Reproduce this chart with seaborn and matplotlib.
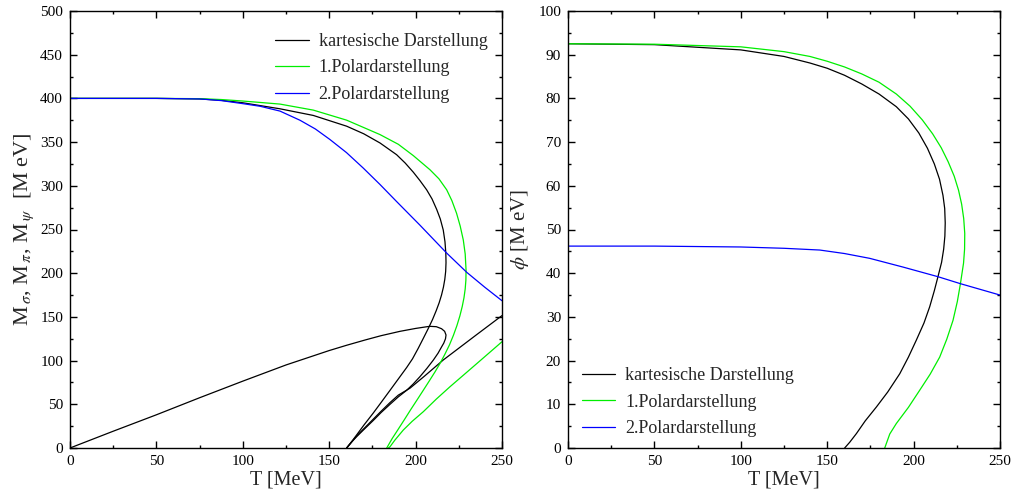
import numpy as np
import pandas as pd
import matplotlib
matplotlib.use("Agg")
import matplotlib.pyplot as plt
import seaborn as sns

# ---------------- data ----------------
# Left panel: masses [MeV] vs T [MeV]
kart_sigma_T = [0, 50, 75, 87.5, 100, 121.5, 140.8, 160.1, 170, 179.4, 189, 194, 198.7, 202.5,
                206.4, 209.5, 212.2, 214.3, 216, 217, 217.5, 217.6, 217.4, 216.9, 216.1, 215,
                213.6, 211.9, 209.8, 207.4, 204.6, 201.5, 198.2, 194.8, 190, 185.2, 180, 175.5,
                170, 165.9, 162.5, 160.1]
kart_sigma_M = [400, 400, 399.4, 397.8, 395, 388.1, 380.5, 368.2, 359.5, 349, 335.6, 326, 315.5,
                306, 295.4, 285, 273, 262, 249.4, 236, 222.6, 212, 202, 193, 184, 175,
                166, 157, 147, 137, 126, 114, 102, 92, 79, 66, 52, 40,
                26, 15, 6, 0]

kart_pion_T = [0, 25, 50, 75, 100, 125, 150, 160, 171, 180, 191, 200, 206, 208.3, 212, 215, 216.8,
               217.6, 217.3, 216.3, 215.1, 213, 210.3, 206.5, 202.5, 198.5, 194.8, 190, 185.2, 180,
               175.5, 170, 165.9, 162.5, 160.1]
kart_pion_M = [0, 19.2, 38, 57.5, 76.5, 95, 111.5, 117.5, 123.7, 128.5, 133.5, 136.8, 138.6, 139.2,
               138.8, 136.5, 133.5, 129.3, 125, 120, 115.9, 108.5, 100.7, 91, 81.6, 73, 66, 58.5,
               50, 40.5, 31.5, 21, 13, 6, 0]

kart_sym_T = [160.1, 162.5, 166, 170, 175.5, 180, 185.2, 190, 196.8, 205, 216, 225, 235, 250]
kart_sym_M = [0, 5.5, 14, 22, 33, 42, 52, 60.5, 68.5, 82, 100.7, 114.2, 129.2, 151.5]

pol1_sigma_T = [0, 50, 75, 87.5, 100, 121.5, 140.8, 160.1, 179.4, 190, 198.7, 208.3, 213.5, 218,
                221, 223.7, 225.8, 227.6, 228.7, 229.2, 229.1, 228.7, 228, 227, 225.6, 223.9,
                221.9, 219.6, 217, 214.2, 211.2, 208, 204.6, 201, 197.2, 193.2, 189.3, 186.5,
                184.6, 183.3]
pol1_sigma_M = [400, 400, 399.7, 398.7, 397, 393.5, 386.6, 375.1, 358.6, 347.5, 334.5, 318.4, 308,
                295.4, 283, 268.6, 254, 238, 222, 203.5, 192, 182, 172, 162, 151, 140,
                129, 118, 107.5, 97, 87, 77, 66.5, 55.5, 44, 31.5, 19.5, 11,
                4.5, 0]

pol1_sym_T = [184.3, 185.2, 188, 192.9, 198, 204.5, 212, 219.9, 228, 238, 250]
pol1_sym_M = [0, 1.5, 9, 20.6, 30.5, 41.6, 56, 70.1, 83.9, 101, 121.6]

pol2_M_T = [0, 50, 75, 87.5, 100, 110, 121.5, 133.1, 142, 150.4, 160, 169.7, 179.4, 189, 195,
            202.5, 210, 218, 229.6, 240, 250]
pol2_M_M = [400, 400, 399.4, 397.5, 394, 391, 385.5, 375, 365, 353, 338, 320.3, 301.5, 282, 270,
            255, 239.5, 223, 201, 184, 168.5]

# Right panel: condensate phi [MeV] vs T [MeV]
kart_phi_T = [0, 50, 100, 125, 140, 150, 160, 170, 180, 190, 197, 203, 208, 212, 215, 217,
              218, 218.3, 218.1, 217.4, 216.2, 214.1, 212, 209.3, 206, 201.6, 197, 192,
              185, 178.5, 172, 166.9, 163, 160.1]
kart_phi_V = [92.5, 92.3, 91.1, 89.6, 88.1, 86.9, 85.3, 83.3, 81.0, 78.1, 75.3, 72.1, 68.6,
              65.0, 61.5, 57.8, 54.8, 51.5, 48.5, 45.5, 42.5, 39.2, 36, 32.3, 28.6, 24.7,
              20.8, 17, 12.8, 9.4, 6.2, 3.3, 1.3, 0]

pol1_phi_T = [0, 50, 100, 125, 140, 150, 160, 170, 180, 190, 198, 205, 211, 216, 220, 223.5,
              226, 227.8, 229, 229.6, 229.5, 228.9, 227.1, 225.3, 222.8, 219.2, 215.1, 209.6,
              203.5, 197, 190, 186.2, 183.3]
pol1_phi_V = [92.5, 92.4, 91.8, 90.7, 89.6, 88.5, 87.2, 85.6, 83.7, 81.0, 78.2, 75.1, 71.9,
              68.7, 65.5, 62.2, 59, 55.8, 52.5, 49.1, 45.5, 42.3, 37.6, 33.5, 29.2, 24.9,
              20.8, 16.9, 13.2, 9.3, 5.6, 3.2, 0]

pol2_phi_T = [0, 50, 100, 125, 145.7, 160, 174.6, 193.9, 214.1, 227.1, 250]
pol2_phi_V = [46.2, 46.2, 46.0, 45.7, 45.3, 44.5, 43.4, 41.4, 39.2, 37.6, 35.0]

labels = ["kartesische Darstellung", "1.Polardarstellung", "2.Polardarstellung"]
colors = ["black", "#00ee00", "#0000ff"]

# ---------------- style ----------------
sns.set_style("ticks")
plt.rcParams["font.family"] = ["Liberation Serif", "DejaVu Serif"]
plt.rcParams["mathtext.fontset"] = "stix"
plt.rcParams["axes.linewidth"] = 1.0
plt.rcParams["lines.solid_joinstyle"] = "round"

fig = plt.figure(figsize=(10.27, 5.01), dpi=100)
axL = fig.add_axes([70 / 1027, 53 / 501, 432 / 1027, 437 / 501])
axR = fig.add_axes([568 / 1027, 53 / 501, 432 / 1027, 437 / 501])

lw = 0.9


def draw(ax, T, Y, color, label=None):
    sns.lineplot(x=np.array(T, dtype=float), y=np.array(Y, dtype=float), sort=False,
                 estimator=None, color=color, lw=lw, ax=ax, label=label)


# left panel
draw(axL, kart_sigma_T, kart_sigma_M, colors[0], labels[0])
draw(axL, kart_pion_T, kart_pion_M, colors[0])
draw(axL, kart_sym_T, kart_sym_M, colors[0])
draw(axL, pol1_sigma_T, pol1_sigma_M, colors[1], labels[1])
draw(axL, pol1_sym_T, pol1_sym_M, colors[1])
draw(axL, pol2_M_T, pol2_M_M, colors[2], labels[2])

# right panel
draw(axR, kart_phi_T, kart_phi_V, colors[0], labels[0])
draw(axR, pol1_phi_T, pol1_phi_V, colors[1], labels[1])
draw(axR, pol2_phi_T, pol2_phi_V, colors[2], labels[2])

for ax, ymax, ymaj, ymin in [(axL, 500, 50, 25), (axR, 100, 10, 5)]:
    ax.set_xlim(0, 250)
    ax.set_ylim(0, ymax)
    ax.set_xticks(np.arange(0, 251, 50))
    ax.set_xticks(np.arange(0, 251, 25), minor=True)
    ax.set_yticks(np.arange(0, ymax + 1, ymaj))
    ax.set_yticks(np.arange(0, ymax + 1, ymin), minor=True)
    ax.tick_params(which="both", direction="in", top=True, right=True, width=1.0,
                   labelsize=11, pad=5, colors="black")
    ax.tick_params(which="major", length=5)
    ax.tick_params(which="minor", length=2.5)
    for s in ax.spines.values():
        s.set_visible(True)
        s.set_color("black")
    ax.set_xlabel("T [MeV]", fontsize=14.5, labelpad=2)

axL.set_ylabel(r"M$_{\,\sigma}$, M$_{\,\pi}$, M$_{\,\psi}$  [M eV]", fontsize=16, labelpad=3)
axR.set_ylabel(r"$\phi$ [M eV]", fontsize=15, labelpad=5)

legkw = dict(frameon=False, fontsize=13, handlelength=1.85, handletextpad=0.55,
             labelspacing=0.53, borderpad=0, borderaxespad=0)
axL.legend(loc="upper left", bbox_to_anchor=(0.475, 0.95), **legkw)
axR.legend(loc="lower left", bbox_to_anchor=(0.032, 0.025), **legkw)

fig.savefig("out.png", dpi=100)
